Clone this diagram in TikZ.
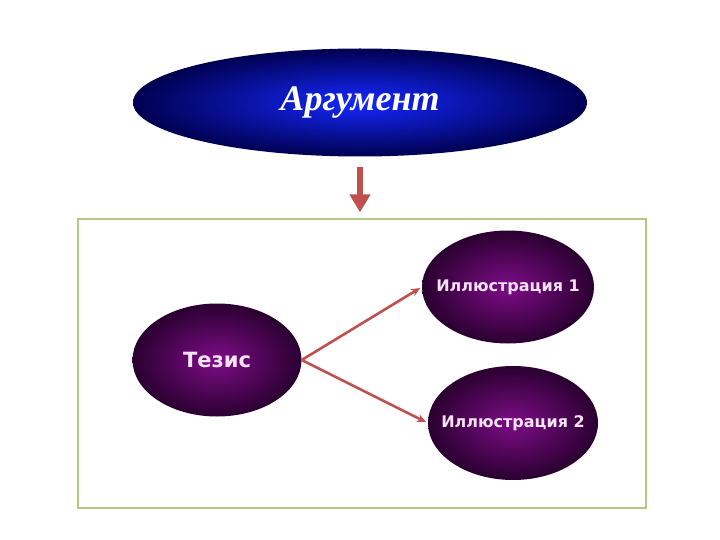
\documentclass[tikz,border=0pt]{standalone}
\usepackage{fontspec}
\setmainfont{Liberation Serif}
\newfontfamily\labelfont{DejaVu Sans}
\usetikzlibrary{shapes.geometric,arrows.meta}
\definecolor{arrowred}{HTML}{C0504D}
\definecolor{framegreen}{HTML}{B4C886}
\definecolor{labelpink}{HTML}{F8E2F8}
\tikzset{
  purpleoval/.style={ellipse, inner color={rgb,255:red,125;green,12;blue,135}, outer color={rgb,255:red,42;green,0;blue,48}, minimum width=171pt, minimum height=113pt, inner sep=0pt, text=labelpink, font=\labelfont\bfseries},
  thinarrow/.style={draw=arrowred, line width=2.6pt, -{Stealth[length=9pt,width=8pt]}, shorten >=2pt},
}
\begin{document}
\begin{tikzpicture}[x=1pt,y=-1pt]
\useasboundingbox (0,0) rectangle (720,540);
\fill[white] (0,0) rectangle (720,540);
\node[draw=framegreen, line width=1.2pt, minimum width=568pt, minimum height=289pt, inner sep=0pt] (frame) at (362,363.5) {};
\node[ellipse, inner color={rgb,255:red,20;green,40;blue,255}, outer color={rgb,255:red,0;green,0;blue,80}, minimum width=454pt, minimum height=108pt, inner sep=0pt, text=white, font=\fontsize{36}{40}\selectfont\bfseries\itshape] (arg) at (360,102.5) {\makebox[0pt]{Аргумент}};
\draw[draw=arrowred, line width=6pt, -{Triangle[length=18pt,width=20pt]}, shorten <=10pt, shorten >=6pt] (arg.south) -- (arg.south |- frame.north);
\node[purpleoval, font=\labelfont\bfseries\fontsize{21}{24}\selectfont, minimum width=169pt] (tez) at (217,360) {\makebox[0pt]{Тезис}};
\node[purpleoval, font=\labelfont\bfseries\fontsize{16}{18}\selectfont, minimum width=172pt] (ill1) at (508,287) {\makebox[0pt]{Иллюстрация 1}};
\node[purpleoval, font=\labelfont\bfseries\fontsize{16}{18}\selectfont, minimum width=170pt, minimum height=114pt] (ill2) at (513,423) {\makebox[0pt]{Иллюстрация 2}};
\draw[thinarrow] (tez.east) -- (ill1.west);
\draw[thinarrow] (tez.east) -- (ill2.west);
\end{tikzpicture}
\end{document}
